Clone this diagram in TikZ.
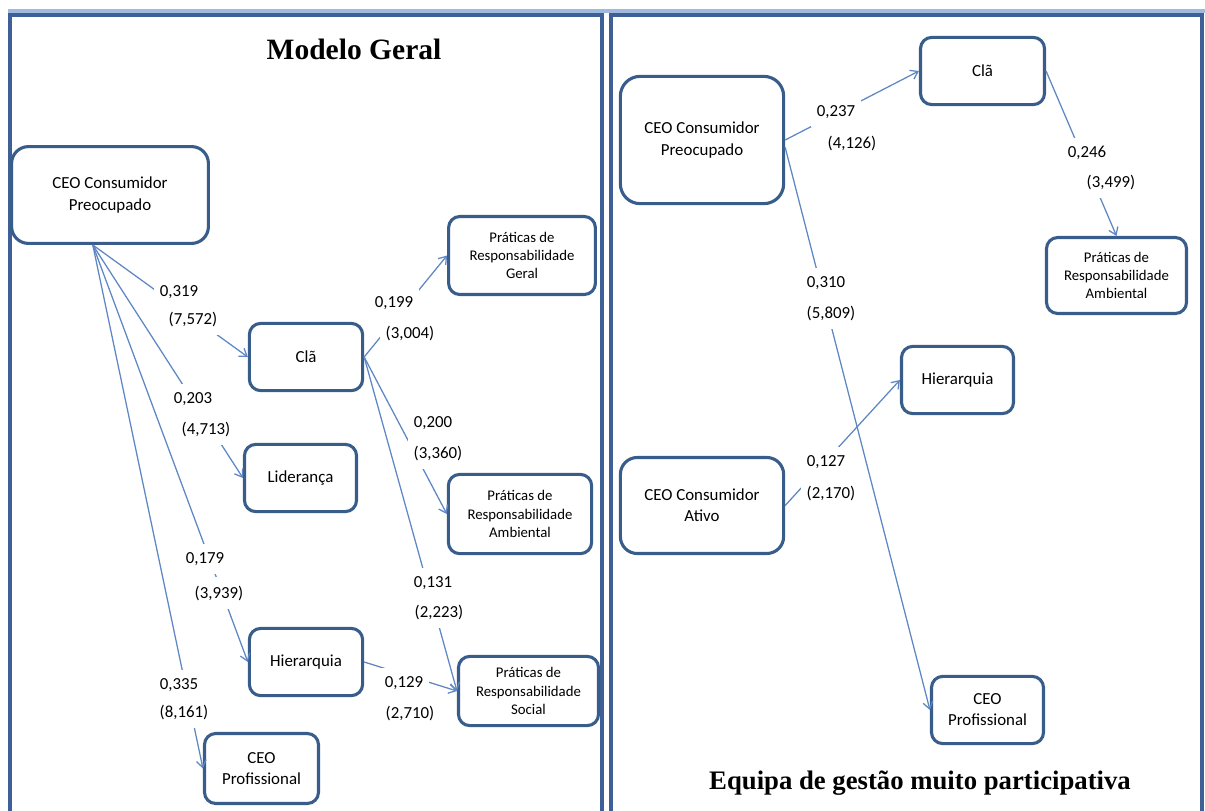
\documentclass[tikz,border=0pt]{standalone}
\usepackage{fontspec}
\setmainfont{Carlito}
\newfontfamily\titlefont{Liberation Serif}
\usetikzlibrary{arrows.meta}
\definecolor{boxblue}{RGB}{56,93,138}
\definecolor{frameblue}{RGB}{62,96,150}
\definecolor{bandblue}{RGB}{160,185,222}
\definecolor{edgeblue}{RGB}{94,135,196}

\begin{document}
\begin{tikzpicture}[x=0.025cm, y=-0.025cm,
    box/.style={draw=boxblue, line width=2.2pt, rounded corners=8pt, fill=white,
        align=center, inner sep=1pt, font=\fontsize{12}{15}\selectfont},
    pbox/.style={box, font=\fontsize{10.5}{13}\selectfont},
    link/.style={draw=edgeblue, line width=0.9pt, -{Straight Barb[length=5pt,width=7pt]}},
    coef/.style={fill=white, inner xsep=4pt, inner ysep=6pt, font=\fontsize{12}{14}\selectfont},
    frame/.style={draw=frameblue, line width=2.8pt},
    title/.style={anchor=base, font=\titlefont\bfseries\fontsize{21}{24}\selectfont}]
    \useasboundingbox (0,0) rectangle (1205,810);

    % panels
    \draw[bandblue, line width=2.8pt] (8,11) -- (1205,11);
    \draw[frame] (10,15) rectangle (602,830);
    \draw[frame] (611,15) rectangle (1202,830);

    % modelo geral
    \node[box, rounded corners=12pt, minimum width=4.92cm, minimum height=2.42cm] (cp) at (110,195) {CEO Consumidor\\Preocupado};
    \node[pbox, minimum width=3.67cm, minimum height=1.95cm] (prg) at (522,255.5) {Práticas de\\Responsabilidade\\Geral};
    \node[box, minimum width=2.83cm, minimum height=1.68cm] (cla) at (306,357) {Clã};
    \node[box, minimum width=2.8cm, minimum height=1.68cm] (lid) at (300.5,478) {Liderança};
    \node[pbox, minimum width=3.58cm, minimum height=1.98cm] (pra) at (520,514) {Práticas de\\Responsabilidade\\Ambiental};
    \node[box, minimum width=2.83cm, minimum height=1.68cm] (hie) at (306,662) {Hierarquia};
    \node[pbox, minimum width=3.5cm, minimum height=1.73cm] (prs) at (528.5,691) {Práticas de\\Responsabilidade\\Social};
    \node[box, minimum width=2.85cm, minimum height=1.75cm] (cpro) at (261.5,768.5) {CEO\\Profissional};

    % equipa muito participativa
    \node[box, rounded corners=14pt, minimum width=4.08cm, minimum height=3.18cm] (cp2) at (702,140) {CEO Consumidor\\Preocupado};
    \node[box, minimum width=3.1cm, minimum height=1.68cm] (cla2) at (982.5,71) {Clã};
    \node[pbox, minimum width=3.5cm, minimum height=1.9cm] (pra2) at (1116.5,275.5) {Práticas de\\Responsabilidade\\Ambiental};
    \node[box, minimum width=2.8cm, minimum height=1.68cm] (hie2) at (957.5,380) {Hierarquia};
    \node[box, rounded corners=12pt, minimum width=4.08cm, minimum height=2.4cm] (ca2) at (702,505.5) {CEO Consumidor\\Ativo};
    \node[box, minimum width=2.8cm, minimum height=1.68cm] (cpro2) at (987.5,710) {CEO\\Profissional};

    \draw[link] (cp.-109) -- (cla.west);
    \draw[link] (cp.-109) -- (lid.west);
    \draw[link] (cp.-109) -- (hie.west);
    \draw[link] (cp.-109) -- (cpro.west);
    \draw[link] (cla.east) -- (prg.west);
    \draw[link] (cla.east) -- (pra.west);
    \draw[link] (cla.east) -- (prs.west);
    \draw[link] (hie.east) -- (prs.west);

    \draw[link] (cp2.east) -- (cla2.west);
    \draw[link] (cp2.-5) -- (cpro2.west);
    \draw[link] (cla2.east) -- (pra2.north);
    \draw[link] (ca2.east) -- (hie2.west);

    % coeficientes (t)
    \node[coef] (w319) at (179,292) {0,319};
    \node[coef] (t319) at (193,319) {(7,572)};
    \node[coef] (w203) at (193,399) {0,203};
    \node[coef] (t203) at (206,429) {(4,713)};
    \node[coef] (w179) at (205,559) {0,179};
    \node[coef] (t179) at (219,593) {(3,939)};
    \node[coef] (w335) at (179,685) {0,335};
    \node[coef] (t335) at (184,712) {(8,161)};
    \node[coef] (w199) at (394,303) {0,199};
    \node[coef] (t199) at (410,333) {(3,004)};
    \node[coef] (w200) at (433,423) {0,200};
    \node[coef] (t200) at (438,453) {(3,360)};
    \node[coef] (w131) at (433,583) {0,131};
    \node[coef] (t131) at (439,612) {(2,223)};
    \node[coef] (w129) at (404,683) {0,129};
    \node[coef] (t129) at (410,713) {(2,710)};

    \node[coef] (w237) at (836,112) {0,237};
    \node[coef] (t237) at (852,143) {(4,126)};
    \node[coef] (w246) at (1087,153) {0,246};
    \node[coef] (t246) at (1111,182) {(3,499)};
    \node[coef] (w310) at (826,283) {0,310};
    \node[coef] (t310) at (831,313) {(5,809)};
    \node[coef] (w127) at (826,462) {0,127};
    \node[coef] (t127) at (831,493) {(2,170)};

    \node[title] (tgeral) at (354,59) {Modelo Geral};
    \node[title, font=\titlefont\bfseries\fontsize{19}{22}\selectfont] (tequipa) at (920,789) {Equipa de gestão muito participativa};
\end{tikzpicture}
\end{document}
